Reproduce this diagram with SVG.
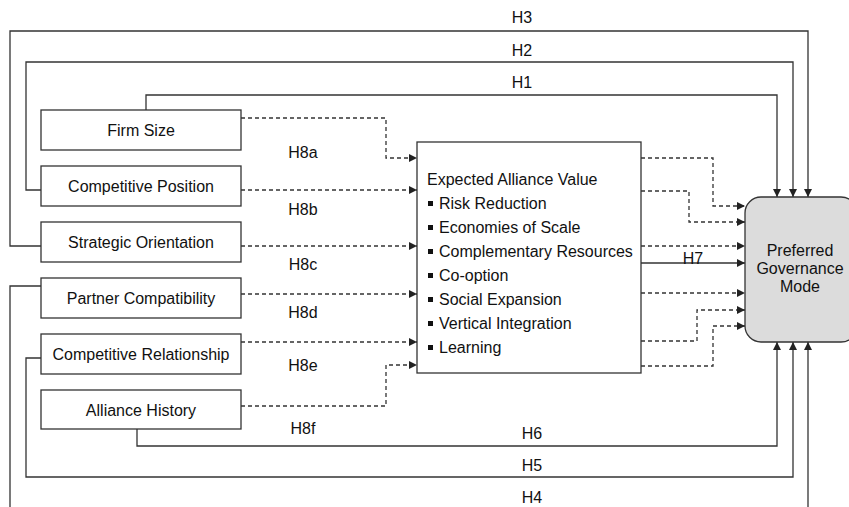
<svg xmlns="http://www.w3.org/2000/svg" width="849" height="507" viewBox="0 0 849 507">
  <defs>
    <marker id="arrow" viewBox="0 0 10 10" refX="10" refY="5" markerWidth="8" markerHeight="8" markerUnits="userSpaceOnUse" orient="auto">
      <path d="M0,0 L10,5 L0,10 Z" fill="#222"/>
    </marker>
    <style>
      .box { fill: #ffffff; stroke: #333; stroke-width: 1.3; }
      .goal { fill: #dcdcdc; stroke: #333; stroke-width: 1.3; }
      .lbl { font-family: "Liberation Sans", Arial, Helvetica, sans-serif; font-size: 16px; fill: #111; }
      .mid { text-anchor: middle; }
      .solid { fill: none; stroke: #333; stroke-width: 1.3; marker-end: url(#arrow); }
      .plain { fill: none; stroke: #333; stroke-width: 1.3; }
      .dash { fill: none; stroke: #333; stroke-width: 1.3; stroke-dasharray: 4 3; marker-end: url(#arrow); }
    </style>
  </defs>
  <rect width="849" height="507" fill="#ffffff"/>

  <!-- connectors -->
  <g id="connectors">
    <!-- direct effects H1-H6 -->
    <path class="solid" d="M146,110 V95 H777 V197"/>
    <path class="solid" d="M41,190 H26 V62 H793 V197"/>
    <path class="solid" d="M41,246 H10 V31 H808 V197"/>
    <path class="plain" d="M41,286 H10 V515"/>
    <path class="solid" d="M808,515 V342"/>
    <path class="solid" d="M41,358 H26 V477 H793 V342"/>
    <path class="solid" d="M137,429 V446 H777 V342"/>
    <!-- H7 -->
    <path class="solid" d="M641,263 H745"/>
    <!-- H8a-H8f into expected value -->
    <path class="dash" d="M241,118 H386 V158 H417"/>
    <path class="dash" d="M241,190 H417"/>
    <path class="dash" d="M241,246 H417"/>
    <path class="dash" d="M241,294 H417"/>
    <path class="dash" d="M241,342 H417"/>
    <path class="dash" d="M241,406 H386 V365 H417"/>
    <!-- expected value dimensions into governance mode -->
    <path class="dash" d="M641,158 H713 V206 H745"/>
    <path class="dash" d="M641,191 H689 V222 H745"/>
    <path class="dash" d="M641,246 H745"/>
    <path class="dash" d="M641,293 H745"/>
    <path class="dash" d="M641,341 H697 V310 H745"/>
    <path class="dash" d="M641,366 H713 V326 H745"/>

    <!-- hypothesis labels -->
    <text class="lbl mid" x="522" y="23">H3</text>
    <text class="lbl mid" x="522" y="56">H2</text>
    <text class="lbl mid" x="522" y="88">H1</text>
    <text class="lbl mid" x="303" y="158">H8a</text>
    <text class="lbl mid" x="303" y="215">H8b</text>
    <text class="lbl mid" x="303" y="270">H8c</text>
    <text class="lbl mid" x="303" y="318">H8d</text>
    <text class="lbl mid" x="303" y="371">H8e</text>
    <text class="lbl mid" x="303" y="434">H8f</text>
    <text class="lbl mid" x="693" y="264">H7</text>
    <text class="lbl mid" x="532" y="439">H6</text>
    <text class="lbl mid" x="532" y="471">H5</text>
    <text class="lbl mid" x="532" y="503">H4</text>
  </g>

  <!-- antecedent nodes -->
  <g id="firm-size">
    <rect class="box" x="41" y="110" width="200" height="40"/>
    <text class="lbl mid" x="141" y="136">Firm Size</text>
  </g>
  <g id="competitive-position">
    <rect class="box" x="41" y="166" width="200" height="40"/>
    <text class="lbl mid" x="141" y="192">Competitive Position</text>
  </g>
  <g id="strategic-orientation">
    <rect class="box" x="41" y="222" width="200" height="40"/>
    <text class="lbl mid" x="141" y="248">Strategic Orientation</text>
  </g>
  <g id="partner-compatibility">
    <rect class="box" x="41" y="278" width="200" height="40"/>
    <text class="lbl mid" x="141" y="304">Partner Compatibility</text>
  </g>
  <g id="competitive-relationship">
    <rect class="box" x="41" y="334" width="200" height="40"/>
    <text class="lbl mid" x="141" y="360">Competitive Relationship</text>
  </g>
  <g id="alliance-history">
    <rect class="box" x="41" y="390" width="200" height="39"/>
    <text class="lbl mid" x="141" y="416">Alliance History</text>
  </g>

  <!-- mediator -->
  <g id="expected-alliance-value">
    <rect class="box" x="417" y="142" width="224" height="231"/>
    <text class="lbl" x="427" y="185">Expected Alliance Value</text>
    <g fill="#111">
      <rect x="428" y="201" width="5" height="5"/>
      <rect x="428" y="225" width="5" height="5"/>
      <rect x="428" y="249" width="5" height="5"/>
      <rect x="428" y="273" width="5" height="5"/>
      <rect x="428" y="297" width="5" height="5"/>
      <rect x="428" y="321" width="5" height="5"/>
      <rect x="428" y="345" width="5" height="5"/>
    </g>
    <text class="lbl" x="439" y="209">Risk Reduction</text>
    <text class="lbl" x="439" y="233">Economies of Scale</text>
    <text class="lbl" x="439" y="257">Complementary Resources</text>
    <text class="lbl" x="439" y="281">Co-option</text>
    <text class="lbl" x="439" y="305">Social Expansion</text>
    <text class="lbl" x="439" y="329">Vertical Integration</text>
    <text class="lbl" x="439" y="353">Learning</text>
  </g>

  <!-- outcome -->
  <g id="preferred-governance-mode">
    <rect class="goal" x="745" y="197" width="112" height="145" rx="16" ry="16"/>
    <text class="lbl mid" x="800" y="256">Preferred</text>
    <text class="lbl mid" x="800" y="274">Governance</text>
    <text class="lbl mid" x="800" y="292">Mode</text>
  </g>
</svg>
